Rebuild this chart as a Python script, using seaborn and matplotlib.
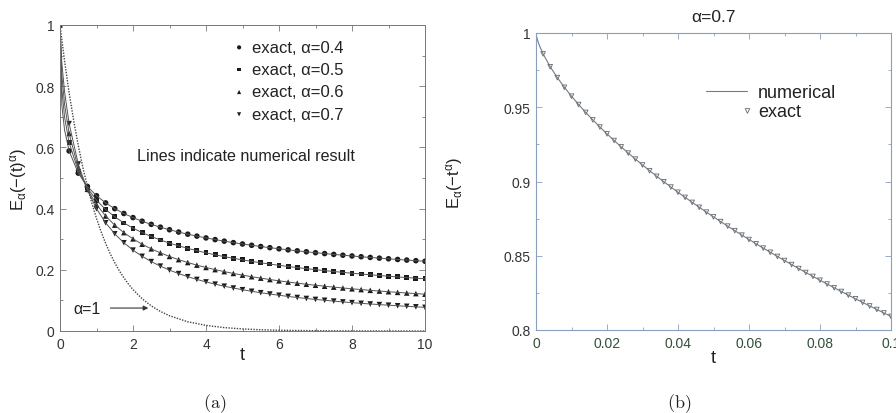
import matplotlib
matplotlib.use("Agg")
import matplotlib.pyplot as plt
import pandas as pd
import seaborn as sns
from matplotlib.ticker import MultipleLocator, FuncFormatter
from matplotlib.legend_handler import HandlerPathCollection

# ---------------- panel (a): E_alpha(-t^alpha), 0 <= t <= 10 ----------------
t_grid = [0.0, 0.25, 0.5, 0.75, 1.0, 1.25, 1.5, 1.75, 2.0, 2.25, 2.5, 2.75,
          3.0, 3.25, 3.5, 3.75, 4.0, 4.25, 4.5, 4.75, 5.0, 5.25, 5.5, 5.75,
          6.0, 6.25, 6.5, 6.75, 7.0, 7.25, 7.5, 7.75, 8.0, 8.25, 8.5, 8.75,
          9.0, 9.25, 9.5, 9.75, 10.0]

exact_a04 = [1.0, 0.5885, 0.5159, 0.4726, 0.4421, 0.4187, 0.3998, 0.3840, 0.3706,
             0.3588, 0.3485, 0.3393, 0.3309, 0.3234, 0.3164, 0.3101, 0.3042, 0.2987,
             0.2936, 0.2888, 0.2843, 0.2801, 0.2761, 0.2723, 0.2687, 0.2652, 0.2620,
             0.2589, 0.2559, 0.2530, 0.2503, 0.2477, 0.2452, 0.2427, 0.2404, 0.2381,
             0.2360, 0.2338, 0.2318, 0.2298, 0.2279]
exact_a05 = [1.0, 0.6157, 0.5231, 0.4672, 0.4276, 0.3972, 0.3731, 0.3531, 0.3362,
             0.3216, 0.3088, 0.2975, 0.2872, 0.2784, 0.2701, 0.2625, 0.2554, 0.2490,
             0.2431, 0.2375, 0.2324, 0.2275, 0.2230, 0.2187, 0.2146, 0.2108, 0.2072,
             0.2038, 0.2005, 0.1974, 0.1944, 0.1916, 0.1888, 0.1862, 0.1837, 0.1813,
             0.1790, 0.1768, 0.1746, 0.1726, 0.1706]
exact_a06 = [1.0, 0.6455, 0.5329, 0.4630, 0.4133, 0.3758, 0.3460, 0.3215, 0.3011,
             0.2836, 0.2685, 0.2553, 0.2436, 0.2332, 0.2238, 0.2153, 0.2076, 0.2006,
             0.1941, 0.1881, 0.1826, 0.1774, 0.1727, 0.1682, 0.1640, 0.1600, 0.1563,
             0.1528, 0.1495, 0.1464, 0.1434, 0.1406, 0.1379, 0.1354, 0.1329, 0.1306,
             0.1284, 0.1262, 0.1242, 0.1222, 0.1202]
exact_a07 = [1.0, 0.6776, 0.5458, 0.4607, 0.3996, 0.3537, 0.3176, 0.2884, 0.2643,
             0.2441, 0.2268, 0.2120, 0.1990, 0.1876, 0.1775, 0.1685, 0.1604, 0.1531,
             0.1464, 0.1404, 0.1349, 0.1298, 0.1251, 0.1208, 0.1168, 0.1130, 0.1095,
             0.1063, 0.1032, 0.1004, 0.0977, 0.0951, 0.0927, 0.0904, 0.0883, 0.0863,
             0.0843, 0.0825, 0.0807, 0.0790, 0.0773]

# extra early samples of the numerical solution (steep start near t = 0)
t_early = [0.05, 0.125]
num_early = {0.4: [0.7375, 0.6571], 0.5: [0.7904, 0.6992],
             0.6: [0.8370, 0.7413], 0.7: [0.8762, 0.7819]}

# alpha = 1 reference curve
t_alpha1 = [0.0, 0.125, 0.25, 0.375, 0.5, 0.625, 0.75, 0.875, 1.0, 1.125, 1.25,
            1.375, 1.5, 1.625, 1.75, 1.875, 2.0, 2.25, 2.5, 2.75, 3.0, 3.5, 4.0,
            4.5, 5.0, 5.5, 6.0, 7.0, 8.0, 9.0, 10.0]
e_alpha1 = [1.0, 0.8825, 0.7788, 0.6873, 0.6065, 0.5353, 0.4724, 0.4169, 0.3679,
            0.3247, 0.2865, 0.2528, 0.2231, 0.1969, 0.1738, 0.1534, 0.1353, 0.1054,
            0.0821, 0.0639, 0.0498, 0.0302, 0.0183, 0.0111, 0.0067, 0.0041, 0.0025,
            0.0009, 0.0003, 0.0001, 0.0000]

alphas = [0.4, 0.5, 0.6, 0.7]
exact_sets = [exact_a04, exact_a05, exact_a06, exact_a07]
marker_kinds = ["o", "s", "^", "v"]
marker_sizes = [16, 12, 16, 16]

# ---------------- panel (b): alpha = 0.7, 0 <= t <= 0.1 ----------------
t_zoom = [0.000, 0.002, 0.004, 0.006, 0.008, 0.010, 0.012, 0.014, 0.016, 0.018,
          0.020, 0.022, 0.024, 0.026, 0.028, 0.030, 0.032, 0.034, 0.036, 0.038,
          0.040, 0.042, 0.044, 0.046, 0.048, 0.050, 0.052, 0.054, 0.056, 0.058,
          0.060, 0.062, 0.064, 0.066, 0.068, 0.070, 0.072, 0.074, 0.076, 0.078,
          0.080, 0.082, 0.084, 0.086, 0.088, 0.090, 0.092, 0.094, 0.096, 0.098,
          0.100]
exact_zoom = [1.0, 0.98593, 0.97728, 0.96997, 0.96344, 0.95743, 0.95183, 0.94654,
              0.94151, 0.93669, 0.93207, 0.92762, 0.92331, 0.91913, 0.91507, 0.91113,
              0.90728, 0.90353, 0.89986, 0.89627, 0.89276, 0.88931, 0.88594, 0.88263,
              0.87937, 0.87618, 0.87303, 0.86994, 0.86689, 0.86390, 0.86094, 0.85803,
              0.85516, 0.85233, 0.84954, 0.84679, 0.84407, 0.84138, 0.83873, 0.83611,
              0.83352, 0.83096, 0.82843, 0.82593, 0.82346, 0.82101, 0.81859, 0.81619,
              0.81382, 0.81148, 0.80916]
t_zoom_early = [0.0001, 0.0005, 0.001]
num_zoom_early = [0.99826, 0.99464, 0.99131]


class MarkerAtEnd(HandlerPathCollection):
    """Legend handler that puts the single marker at the right end of the key."""

    def get_xdata(self, legend, xdescent, ydescent, width, height, fontsize):
        x = -xdescent + width
        return [x], [x]


# ---------------- style ----------------
sns.set_theme(style="ticks")
plt.rcParams["font.family"] = ["Liberation Sans", "DejaVu Sans"]
plt.rcParams.update({
    "xtick.direction": "in", "ytick.direction": "in",
    "xtick.top": True, "ytick.right": True,
    "xtick.major.size": 4, "ytick.major.size": 4,
    "xtick.minor.size": 2.5, "ytick.minor.size": 2.5,
    "xtick.major.width": 0.6, "ytick.major.width": 0.6,
    "xtick.minor.width": 0.6, "ytick.minor.width": 0.6,
    "mathtext.fontset": "custom",
    "mathtext.rm": "Liberation Sans",
    "mathtext.it": "Liberation Sans:italic",
})

fig = plt.figure(figsize=(8.96, 4.14), dpi=100)
ax_a = fig.add_axes([60 / 896, 82 / 414, 365 / 896, 306 / 414])
ax_b = fig.add_axes([536 / 896, 83 / 414, 355 / 896, 297 / 414])

fmt_g = FuncFormatter(lambda v, p: f"{v:g}")
TICK_FS = 10

# ---- panel (a) ----
line_rows = []
for a, vals in zip(alphas, exact_sets):
    ts = [t_grid[0]] + t_early + t_grid[1:]
    es = [vals[0]] + num_early[a] + vals[1:]
    line_rows += [{"t": t, "E": e, "alpha": a} for t, e in zip(ts, es)]
lines_df = pd.DataFrame(line_rows)

sns.lineplot(data=lines_df, x="t", y="E", units="alpha", estimator=None,
             color="#555555", lw=0.7, ax=ax_a, legend=False)
sns.lineplot(x=t_alpha1, y=e_alpha1, color="#444444", lw=1.0,
             linestyle=(0, (1, 1)), ax=ax_a, legend=False)

for a, vals, mk, sz in zip(alphas, exact_sets, marker_kinds, marker_sizes):
    sns.scatterplot(x=t_grid, y=vals, marker=mk, s=sz, color="#1a1a1a",
                    edgecolor="none", ax=ax_a, label=f"exact, \u03b1={a}")

ax_a.set_xlim(0, 10)
ax_a.set_ylim(0, 1)
ax_a.xaxis.set_major_locator(MultipleLocator(2))
ax_a.xaxis.set_minor_locator(MultipleLocator(1))
ax_a.yaxis.set_major_locator(MultipleLocator(0.2))
ax_a.yaxis.set_minor_locator(MultipleLocator(0.1))
ax_a.xaxis.set_major_formatter(fmt_g)
ax_a.yaxis.set_major_formatter(fmt_g)
ax_a.tick_params(which="both", colors="#777777", labelcolor="#333333",
                 labelsize=TICK_FS, pad=4)
for sp in ax_a.spines.values():
    sp.set_color("#777777")
    sp.set_linewidth(0.7)

ax_a.set_xlabel("t", fontsize=13, color="#222222")
ax_a.xaxis.set_label_coords(0.5, -0.05)
ax_a.set_ylabel(r"$\mathrm{E_{\alpha}(-(t)^{\alpha})}$", fontsize=12,
                color="#222222")
ax_a.yaxis.set_label_coords(-0.085, 0.5)

leg_a = ax_a.legend(loc="upper left", bbox_to_anchor=(0.445, 0.99),
                    frameon=False, fontsize=12, handlelength=0.6,
                    handletextpad=0.45, labelspacing=0.44, markerscale=0.75,
                    borderpad=0.2)
for txt in leg_a.get_texts():
    txt.set_color("#222222")

ax_a.text(5.1, 0.575, "Lines indicate numerical result", ha="center",
          va="center", fontsize=11.6, color="#222222")
ax_a.text(0.36, 0.072, "\u03b1=1", ha="left", va="center", fontsize=11.5,
          color="#222222")
ax_a.annotate("", xy=(2.42, 0.075), xytext=(1.38, 0.075),
              arrowprops=dict(arrowstyle="-|>", color="#333333", lw=0.8,
                              mutation_scale=7, shrinkA=0, shrinkB=0))

# ---- panel (b) ----
ts_b = [t_zoom[0]] + t_zoom_early + t_zoom[1:]
es_b = [exact_zoom[0]] + num_zoom_early + exact_zoom[1:]
sns.lineplot(x=ts_b, y=es_b, color="#6f7c8a", lw=0.8, ax=ax_b,
             label="numerical")
sns.scatterplot(x=t_zoom, y=exact_zoom, marker="v", s=11, color="#666666",
                linewidth=0.6, ax=ax_b, label="exact")
coll = ax_b.collections[-1]
coll.set_facecolor("none")
coll.set_edgecolor("#666666")

ax_b.set_xlim(0, 0.1)
ax_b.set_ylim(0.8, 1.0)
ax_b.xaxis.set_major_locator(MultipleLocator(0.02))
ax_b.xaxis.set_minor_locator(MultipleLocator(0.01))
ax_b.yaxis.set_major_locator(MultipleLocator(0.05))
ax_b.yaxis.set_minor_locator(MultipleLocator(0.025))
ax_b.xaxis.set_major_formatter(fmt_g)
ax_b.yaxis.set_major_formatter(fmt_g)
frame_b = "#8a9fbd"
ax_b.tick_params(which="both", colors=frame_b, labelsize=TICK_FS, pad=4)
ax_b.tick_params(axis="x", labelcolor="#34503a")
ax_b.tick_params(axis="y", labelcolor="#333333")
for sp in ax_b.spines.values():
    sp.set_color(frame_b)
    sp.set_linewidth(0.8)

ax_b.set_title("\u03b1=0.7", fontsize=12.5, pad=9, color="#222222")
ax_b.set_xlabel("t", fontsize=13, color="#222222")
ax_b.xaxis.set_label_coords(0.5, -0.065)
ax_b.set_ylabel(r"$\mathrm{E_{\alpha}(-t^{\alpha})}$", fontsize=12,
                color="#222222")
ax_b.yaxis.set_label_coords(-0.2, 0.5)

leg_b = ax_b.legend(loc="upper left", bbox_to_anchor=(0.443, 0.87),
                    frameon=False, fontsize=13, handlelength=2.3,
                    handletextpad=0.6, labelspacing=0.08, borderpad=0.2,
                    handler_map={coll: MarkerAtEnd(numpoints=1)})
for txt in leg_b.get_texts():
    txt.set_color("#222222")

# ---- sub-figure captions ----
fig.text(215 / 896, 1 - 404 / 414, r"$\mathrm{(a)}$", math_fontfamily="cm",
         ha="center", va="center", fontsize=13, color="#222222")
fig.text(679 / 896, 1 - 404 / 414, r"$\mathrm{(b)}$", math_fontfamily="cm",
         ha="center", va="center", fontsize=13, color="#222222")

fig.savefig("out.png", dpi=100, facecolor="white")
